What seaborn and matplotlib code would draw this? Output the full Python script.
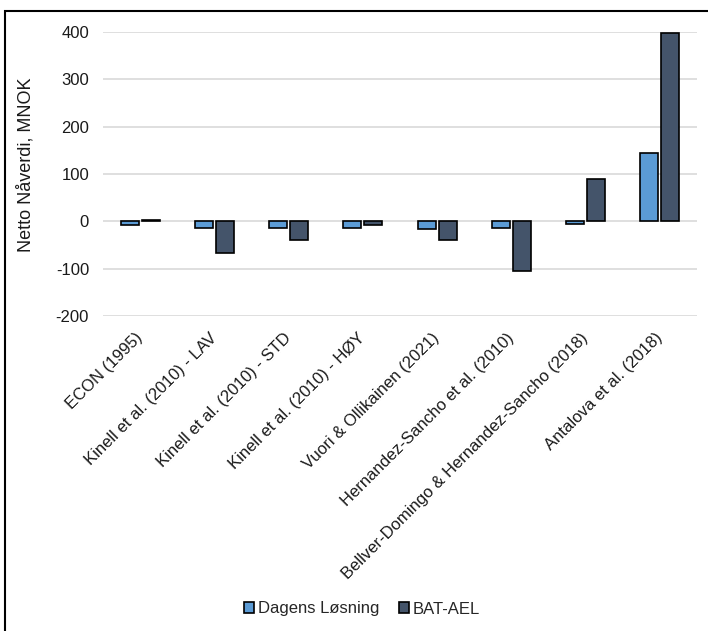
import pandas as pd
import matplotlib.pyplot as plt
import seaborn as sns
from matplotlib.patches import Rectangle

# data
studies = ['ECON (1995)', 'Kinell et al. (2010) - LAV', 'Kinell et al. (2010) - STD',
           'Kinell et al. (2010) - HØY', 'Vuori & Ollikainen (2021)',
           'Hernandez-Sancho et al. (2010)', 'Bellver-Domingo & Hernandez-Sancho (2018)',
           'Antalova et al. (2018)']
dagens = [-7, -15, -15, -14, -16, -15, -5, 145]
bat_ael = [3, -67, -39, -8, -39, -105, 90, 398]
series = ['Dagens Løsning', 'BAT-AEL']
colors = ['#5B9BD5', '#44546A']

df = pd.DataFrame({
    'Studie': studies * 2,
    'Serie': [series[0]] * len(studies) + [series[1]] * len(studies),
    'NNV': dagens + bat_ael,
})

sns.set_theme(style='white')
plt.rcParams['font.family'] = ['Liberation Sans', 'DejaVu Sans']
plt.rcParams['axes.unicode_minus'] = False

fig = plt.figure(figsize=(7.08, 6.31), dpi=100)
ax = fig.add_axes([103 / 708, 1 - 316 / 631, 594 / 708, 284 / 631])

sns.barplot(data=df, x='Studie', y='NNV', hue='Serie', palette=colors,
            width=0.566, gap=0.145, edgecolor='black', linewidth=1.2,
            saturation=1, ax=ax, zorder=3)

ax.set_ylim(-200, 400)
ax.set_yticks(range(-200, 401, 100))
ax.yaxis.grid(True, color='#D9D9D9', linewidth=1.2, zorder=0)
ax.set_axisbelow(True)
for s in ax.spines.values():
    s.set_visible(False)
ax.tick_params(axis='both', length=0, labelsize=12, colors='#1a1a1a')
ax.tick_params(axis='y', pad=10)
ax.tick_params(axis='x', pad=14)
plt.setp(ax.get_xticklabels(), rotation=45, ha='right', va='center',
         rotation_mode='anchor')
ax.set_xlabel('')
ax.set_ylabel('Netto Nåverdi, MNOK', fontsize=13, color='#1a1a1a')
# centre of the label sits at x~35px, y~165px in the reference
ax.yaxis.set_label_coords(-(103 - 35) / 594, (316 - 165) / 284)

ax.legend(loc='center', bbox_to_anchor=(362 / 708, 1 - 609 / 631),
          bbox_transform=fig.transFigure, ncol=2, frameon=False, fontsize=12,
          handlelength=0.6, handleheight=0.6, handletextpad=0.2,
          columnspacing=1.2)

# chart frame like the Excel chart area
fig.patches.append(Rectangle((5 / 708, -0.05), 1.0, 1 - 11 / 631 + 0.05,
                             transform=fig.transFigure, fill=False,
                             edgecolor='black', linewidth=1.5))

plt.savefig('out.png', dpi=100)
